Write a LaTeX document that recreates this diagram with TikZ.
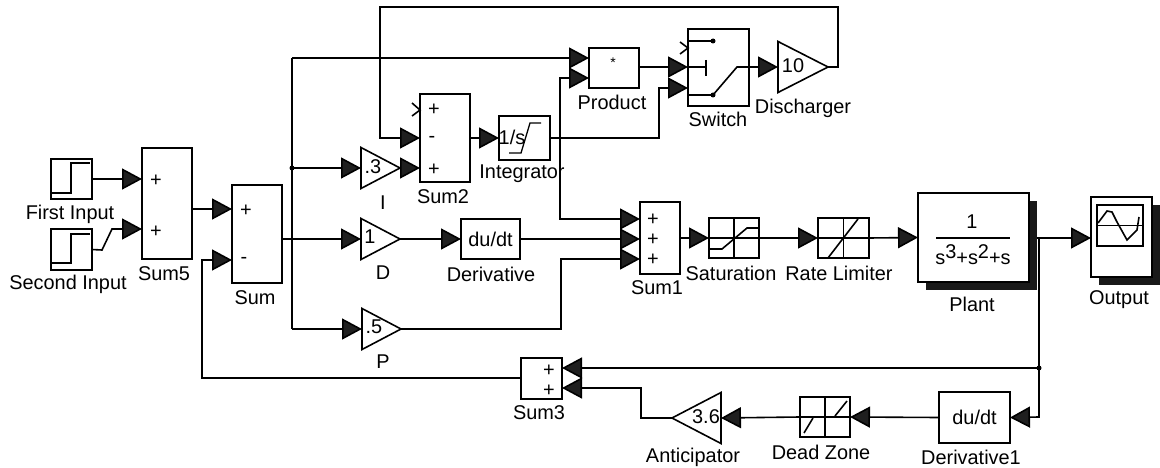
\documentclass[tikz,border=0pt]{standalone}
\usepackage{fontspec}
\setmainfont{Liberation Sans}
\usetikzlibrary{arrows.meta,shapes.geometric,shadows}
\tikzset{
  lab/.style={font=\fontsize{19.9}{22}\selectfont,inner sep=0pt},
  blk/.style={draw,line width=1.6pt,fill=white,inner sep=0pt,outer sep=0pt,font=\fontsize{19.9}{22}\selectfont},
  gain/.style={draw,line width=1.6pt,isosceles triangle,isosceles triangle stretches,inner sep=0pt,outer sep=0pt,anchor=lower side,font=\fontsize{19.9}{22}\selectfont},
  wire/.style={line width=1.6pt},
  sig/.style={line width=1.6pt,-{Triangle[length=20pt,width=21pt,fill=black!88]}},
  thin wire/.style={line width=1.3pt},
  shade box/.style={drop shadow={fill=black!90,opacity=1,shadow xshift=8pt,shadow yshift=-8pt}}
}
\begin{document}
\begin{tikzpicture}[x=1pt,y=-1pt]
\useasboundingbox (0,0) rectangle (1160,468);
% sources
\node[blk,minimum width=41pt,minimum height=40pt] (first) at (71.5,179) {};
\node[blk,minimum width=41pt,minimum height=41pt] (second) at (71.5,249.5) {};
\draw[thin wire] (52,193)--(71,193)--(71,163)--(90,163);
\draw[thin wire] (52,263)--(71,263)--(71,234)--(90,234);
\node[lab] (lfirst) at (70,214) {First Input};
\node[lab] (lsecond) at (68,284) {Second Input};
% sums
\node[blk,minimum width=50pt,minimum height=111pt] (sum5) at (167,203.5) {};
\node[lab] (s5a) at (156,181) {+};
\node[lab] (s5b) at (156,232) {+};
\node[lab] (lsum5) at (164,274) {Sum5};
\node[blk,minimum width=50pt,minimum height=98pt] (sum) at (257,234) {};
\node[lab] (sa) at (246,211) {+};
\node[lab] (sb) at (244,260) {-};
\node[lab] (lsum) at (255,298) {Sum};
\node[blk,minimum width=50pt,minimum height=88pt] (sum2) at (445,138) {};
\node[lab] (s2a) at (434,110) {+};
\node[lab] (s2b) at (432,139) {-};
\node[lab] (s2c) at (434,170) {+};
\node[lab] (lsum2) at (443,197) {Sum2};
\node[blk,minimum width=40pt,minimum height=72pt] (sum1) at (660,238) {};
\node[lab] (s1a) at (653,220) {+};
\node[lab] (s1b) at (653,240) {+};
\node[lab] (s1c) at (653,260) {+};
\node[lab] (lsum1) at (657,288) {Sum1};
\node[blk,minimum width=41pt,minimum height=41pt] (sum3) at (541.5,378.5) {};
\node[lab] (s3a) at (549,371) {+};
\node[lab] (s3b) at (549,391) {+};
\node[lab] (lsum3) at (539,413) {Sum3};
% gains
\node[gain,minimum width=41pt,minimum height=39pt] (gi) at (361,168) {};
\node[lab] (gitxt) at (373,167) {.3};
\node[lab] (li) at (383,203) {I};
\node[gain,minimum width=41pt,minimum height=39pt] (gd) at (361,239) {};
\node[lab] (gdtxt) at (370,237) {1};
\node[lab] (ld) at (383,273) {D};
\node[gain,minimum width=41pt,minimum height=39pt] (gp) at (362,329) {};
\node[lab] (gptxt) at (374,327) {.5};
\node[lab] (lp) at (383,362) {P};
\node[gain,minimum width=51pt,minimum height=50pt] (gdis) at (778,67) {};
\node[lab] (gdistxt) at (793,66) {10};
\node[lab] (ldis) at (803,108) {Discharger};
\node[gain,shape border rotate=180,minimum width=51pt,minimum height=49pt] (gant) at (721,418) {};
\node[lab] (ganttxt) at (706,417) {3.6};
\node[lab] (lant) at (693,457) {Anticipator};
% blocks
\node[blk,minimum width=51pt,minimum height=44pt] (integ) at (524.5,138) {};
\node[lab] (integtxt) at (512,137) {1/s};
\draw[thin wire] (509,153)--(521,153)--(530,123)--(541,123);
\node[lab] (linteg) at (522,174) {Integrator};
\node[blk,minimum width=50pt,minimum height=40pt] (prod) at (614,68) {};
\node[lab,font=\fontsize{14}{16}\selectfont] (prodtxt) at (613,63) {*};
\node[lab] (lprod) at (612,102) {Product};
\node[blk,minimum width=61pt,minimum height=77pt] (switch) at (718.5,67.5) {};
\node[lab] (lswitch) at (718,119) {Switch};
\node[blk,minimum width=59pt,minimum height=40pt] (deriv) at (490.5,239) {du/dt};
\node[lab] (lderiv) at (491,274) {Derivative};
\node[blk,minimum width=50pt,minimum height=40pt] (sat) at (734,238) {};
\node[lab] (lsat) at (731,273) {Saturation};
\node[blk,minimum width=51pt,minimum height=40pt] (rate) at (843.5,238) {};
\node[lab] (lrate) at (839,273) {Rate Limiter};
\node[blk,shade box,minimum width=111pt,minimum height=89pt] (plant) at (973.5,237.5) {};
\node[lab] (num) at (972,222) {1};
\node[lab] (den) at (973,255) {s\raisebox{6pt}{3}+s\raisebox{6pt}{2}+s};
\draw[wire] (936,238)--(1010,238);
\node[lab] (lplant) at (972,304) {Plant};
\node[blk,shade box,minimum width=61pt,minimum height=80pt] (out) at (1121.5,237) {};
\node[blk,minimum width=46pt,minimum height=41pt] (scope) at (1120,225.5) {};
\node[lab] (lout) at (1119,300) {Output};
\node[blk,minimum width=50pt,minimum height=40pt] (dead) at (825,417) {};
\node[lab] (ldead) at (821,452) {Dead Zone};
\node[blk,minimum width=71pt,minimum height=51pt] (deriv1) at (974.5,417.5) {du/dt};
\node[lab] (lderiv1) at (971,457) {Derivative1};
% block icons
\draw[thin wire] (709,238)--(759,238) (sat.north)--(sat.south);
\draw[wire] (710,249)--(722,249)--(747,228)--(759,228);
\draw[thin wire] (818,238)--(869,238) (rate.north)--(rate.south);
\draw[wire] (828,258)--(858,219);
\draw[thin wire] (800,417)--(850,417) (dead.north)--(dead.south);
\draw[wire] (804,433)--(813,418) (835,416)--(847,401);
\draw[thin wire] (scope.west)--(scope.east);
\draw[wire] (1098,223)--(1107,211)--(1112,212)--(1117,222)--(1127,240)--(1137,230)--(1139,217);
% switch inside
\coordinate (swtop) at (713,41);
\coordinate (swbot) at (713,95);
\fill (swtop) circle (2.5pt) (swbot) circle (2.5pt);
\draw[wire] (688,41)--(swtop);
\draw[wire] (688,67)--(706,67) (706,60)--(706,76);
\draw[wire] (688,95)--(swbot)--(737,67)--(749,67);
% unused inputs
\draw[wire] (412,103)--(420,110)--(412,116);
\draw[wire] (680,42)--(688,48)--(680,54);
% ports
\coordinate (in5a) at (142,179);
\coordinate (in5b) at (142,229);
\coordinate (out5) at (192,209);
\coordinate (insa) at (232,209);
\coordinate (insb) at (232,260);
\coordinate (outs) at (282,239);
\coordinate (bus) at (292,239);
\coordinate (busi) at (292,168);
\coordinate (bustop) at (292,58);
\coordinate (busp) at (292,329);
\coordinate (prodin) at (589,58);
\coordinate (prodmul) at (589,78);
\coordinate (in2b) at (420,138);
\coordinate (in2c) at (420,168);
\coordinate (swin) at (688,67);
\coordinate (swctl) at (688,88);
\coordinate (swout) at (749,67);
\coordinate (tap) at (560,138);
\coordinate (in1a) at (640,219);
\coordinate (in1b) at (640,239);
\coordinate (in1c) at (640,259);
\coordinate (out1) at (680,238);
\coordinate (plantout) at (1037,238);
\coordinate (split) at (1039,238);
\coordinate (dot3) at (1039,368);
\coordinate (in3a) at (562,368);
\coordinate (in3b) at (562,388);
\coordinate (out3) at (521,378);
% connectors
\draw[sig] (first.east)--(in5a);
\draw[sig] (second.east)--(102,250)--(112,229)--(in5b);
\draw[sig] (out5)--(insa);
\draw[wire] (outs)--(bus);
\draw[sig] (bus)--(gd.lower side);
\draw[wire] (bustop)--(busp);
\draw[sig] (bustop)--(prodin);
\draw[sig] (busi)--(gi.lower side);
\draw[sig] (busp)--(gp.lower side);
\fill (busi) circle (2.5pt);
\draw[sig] (gi.apex)--(in2c);
\draw[sig] (gd.apex)--(deriv.west);
\draw[sig] (deriv.east)--(in1b);
\draw[sig] (gp.apex)--(561,329)--(561,259)--(in1c);
\draw[sig] (in2b -| sum2.east)--(integ.west);
\draw[sig] (integ.east)--(659,138)--(659,88)--(swctl);
\draw[sig] (560,138)--(560,78)--(prodmul);
\draw[sig] (tap)--(560,219)--(in1a);
\draw[sig] (prod.east |- swin)--(swin);
\draw[sig] (swout)--(gdis.lower side);
\draw[sig] (gdis.apex)--(838,67)--(838,7)--(380,7)--(380,138)--(in2b);
\draw[sig] (out1)--(sat.west);
\draw[sig] (sat.east)--(rate.west);
\draw[sig] (rate.east)--(plant.west);
\draw[sig] (plantout)--(out.west |- plantout);
\draw[wire] (split)--(dot3);
\fill (dot3) circle (2.5pt);
\draw[sig] (dot3)--(in3a);
\draw[sig] (dot3)--(1039,417)--(deriv1.east);
\draw[sig] (deriv1.west)--(dead.east);
\draw[sig] (dead.west)--(gant.lower side);
\draw[sig] (gant.apex)--(641,418)--(641,388)--(in3b);
\draw[sig] (out3)--(202,378)--(202,260)--(insb);
\end{tikzpicture}
\end{document}
